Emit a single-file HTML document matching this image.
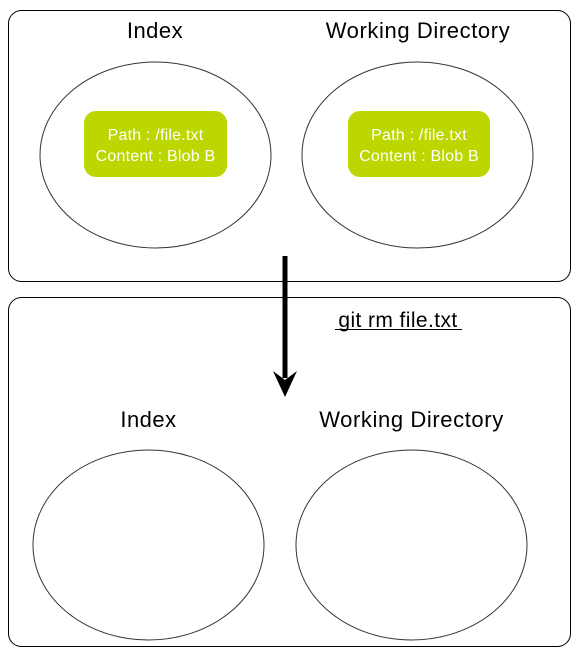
<!DOCTYPE html>
<html><head><style>body{margin:0;background:#fff}svg{display:block}text{font-family:"Liberation Sans",sans-serif}</style></head><body>
<svg width="579" height="654" viewBox="0 0 579 654" xmlns="http://www.w3.org/2000/svg">
<rect x="8.5" y="10.5" width="562" height="271" rx="13" fill="#fff" stroke="#000" stroke-width="1"/>
<rect x="8.5" y="297.5" width="562" height="349" rx="13" fill="#fff" stroke="#000" stroke-width="1"/>
<text x="155" y="38" font-size="22" text-anchor="middle" letter-spacing="0.5">Index</text>
<text x="418" y="38" font-size="22" text-anchor="middle" letter-spacing="0.6">Working Directory</text>
<ellipse cx="155.5" cy="155" rx="115.5" ry="93" fill="none" stroke="#333" stroke-width="1"/>
<ellipse cx="417.5" cy="155" rx="115.5" ry="93" fill="none" stroke="#333" stroke-width="1"/>
<rect x="84" y="111" width="143" height="66" rx="12" fill="#bcd600"/>
<rect x="348" y="111" width="142" height="66" rx="12" fill="#bcd600"/>
<g fill="#fff" font-size="16" text-anchor="middle" letter-spacing="0.2">
<text x="155.5" y="140">Path : /file.txt</text>
<text x="155.5" y="161">Content : Blob B</text>
<text x="419" y="140">Path : /file.txt</text>
<text x="419" y="161">Content : Blob B</text>
</g>
<rect x="282.5" y="256" width="5" height="122" fill="#000"/>
<polygon points="273,371 285,397 297,371 285,380" fill="#000"/>
<text x="398" y="327" font-size="21" text-anchor="middle" letter-spacing="0.4">git rm file.txt</text>
<line x1="335" y1="329.5" x2="462" y2="329.5" stroke="#000" stroke-width="1"/>
<text x="148.5" y="427" font-size="22" text-anchor="middle" letter-spacing="0.5">Index</text>
<text x="411.5" y="427" font-size="22" text-anchor="middle" letter-spacing="0.6">Working Directory</text>
<ellipse cx="148.5" cy="545" rx="115.5" ry="95" fill="none" stroke="#333" stroke-width="1"/>
<ellipse cx="411.5" cy="545" rx="115.5" ry="95" fill="none" stroke="#333" stroke-width="1"/>
</svg>
</body></html>
